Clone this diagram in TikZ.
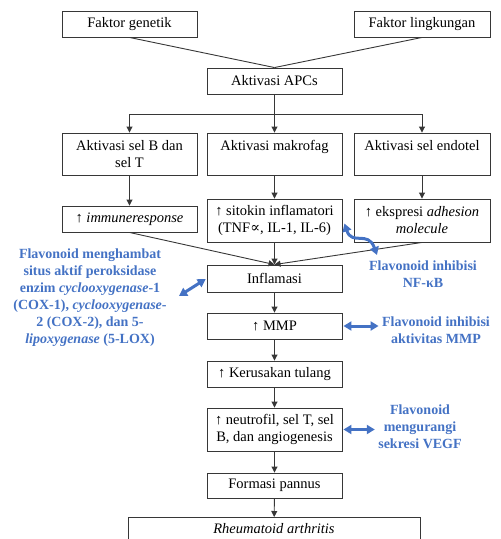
\documentclass[tikz,border=0pt]{standalone}
\usepackage{fontspec}
\setmainfont{Liberation Serif}
\newfontfamily\simbolfont{DejaVu Serif}
\usetikzlibrary{arrows.meta,positioning}
\definecolor{flavBlue}{RGB}{68,114,196}
\definecolor{garisAbu}{RGB}{55,55,55}

\tikzset{
  kotak/.style={draw=garisAbu,line width=0.9pt,minimum width=135pt,
                minimum height=26pt,align=center,inner sep=3pt,
                font=\fontsize{14.5}{17}\selectfont},
  garis/.style={draw=garisAbu,line width=0.9pt},
  panah/.style={garis,-{Triangle[length=6pt,width=6pt]}},
  flavteks/.style={text=flavBlue,align=center,
                   font=\bfseries\fontsize{14}{17}\selectfont},
  flavpanah/.style={draw=flavBlue,line width=3pt,
                    {Triangle[length=8pt,width=9pt]}-{Triangle[length=8pt,width=9pt]}},
}

\begin{document}
\begin{tikzpicture}[x=1pt,y=-1pt]
        \useasboundingbox (0,0) rectangle (501,539);

        % Faktor
        \node[kotak] (genetik) at (129.5,24){Faktor genetik};
        \node[kotak,minimum width=136pt] (lingkungan) at (422,24){Faktor lingkungan};
        \node[kotak] (apc) at (274.5,81){Aktivasi APCs};
        \draw[garis] (genetik.south)--(apc.north);
        \draw[garis] (lingkungan.south)--(apc.north);

        % Cabang aktivasi
        \coordinate (cabang) at (274.5,114);
        \node[kotak,minimum height=42pt] (selB) at (129.5,154){Aktivasi sel B dan\\sel T};
        \node[kotak,minimum height=42pt] (makrofag) at (274.5,154){Aktivasi makrofag\\\phantom{T}};
        \node[kotak,minimum width=136pt,minimum height=42pt] (endotel) at (422,154){Aktivasi sel endotel\\\phantom{T}};
        \draw[garis] (apc.south)--(cabang);
        \draw[panah] (cabang)-|(selB.north);
        \draw[panah] (cabang)--(makrofag.north);
        \draw[panah] (cabang)-|(endotel.north);

        % Respon
        \node[kotak] (imun) at (129.5,219){↑ \textit{immuneresponse}};
        \node[kotak,minimum height=43pt] (sitokin) at (274.5,220.5){↑ sitokin inflamatori\\(TNF{\simbolfont ∝}, IL-1, IL-6)};
        \node[kotak,minimum width=136pt,minimum height=43pt] (adhesi) at (422,220.5){↑ ekspresi \textit{adhesion}\\\textit{molecule}};
        \draw[panah] (selB)--(imun);
        \draw[panah] (makrofag)--(sitokin);
        \draw[panah] (endotel)--(adhesi);

        % Alur utama
        \node[kotak,minimum height=27pt] (inflamasi) at (274.5,278.5){Inflamasi};
        \node[kotak] (mmp) at (274.5,326){↑ MMP};
        \node[kotak] (tulang) at (274.5,374){↑ Kerusakan tulang};
        \node[kotak,minimum height=43pt] (neutrofil) at (274.5,429.5){↑ neutrofil, sel T, sel\\B, dan angiogenesis};
        \node[kotak,minimum height=25pt] (pannus) at (274.5,485.5){Formasi pannus};
        \node[kotak,minimum width=292pt,minimum height=40pt,anchor=north] (ra) at (274,517){\textit{Rheumatoid arthritis}\\\phantom{T}};
        \draw[panah] (imun.south)--(inflamasi.north);
        \draw[panah] (adhesi.south)--(inflamasi.north);
        \draw[panah] (sitokin)--(inflamasi);
        \draw[panah] (inflamasi)--(mmp);
        \draw[panah] (mmp)--(tulang);
        \draw[panah] (tulang)--(neutrofil);
        \draw[panah] (neutrofil)--(pannus);
        \draw[panah] (pannus)--(ra);

        % Flavonoid
        \node[flavteks] (cox) at (90,297.5){Flavonoid menghambat\\situs aktif peroksidase\\enzim \textit{cyclooxygenase}-1\\(COX-1), \textit{cyclooxygenase}-\\2 (COX-2), dan 5-\\\textit{lipoxygenase} (5-LOX)};
        \coordinate (coxujung) at (179,296);
        \draw[flavpanah,shorten >=1pt] (coxujung)--(inflamasi.west);

        \node[flavteks] (nfkb) at (423,274){Flavonoid inhibisi\\NF-κB};
        \coordinate (nfujung) at (377,255);
        \draw[flavpanah] ([xshift=2pt,yshift=-3pt]sitokin.east) .. controls (352,246) and (368,230) .. (nfujung);

        \node[flavteks] (mmpflav) at (436,330){Flavonoid inhibisi\\aktivitas MMP};
        \draw[flavpanah] ([xshift=1pt]mmp.east)--(mmp.east-|mmpflav.west);

        \node[flavteks] (vegf) at (420,427){Flavonoid\\mengurangi\\sekresi VEGF};
        \draw[flavpanah] ([xshift=1pt]neutrofil.east)--(neutrofil.east-|vegf.west);
      \end{tikzpicture}
\end{document}
